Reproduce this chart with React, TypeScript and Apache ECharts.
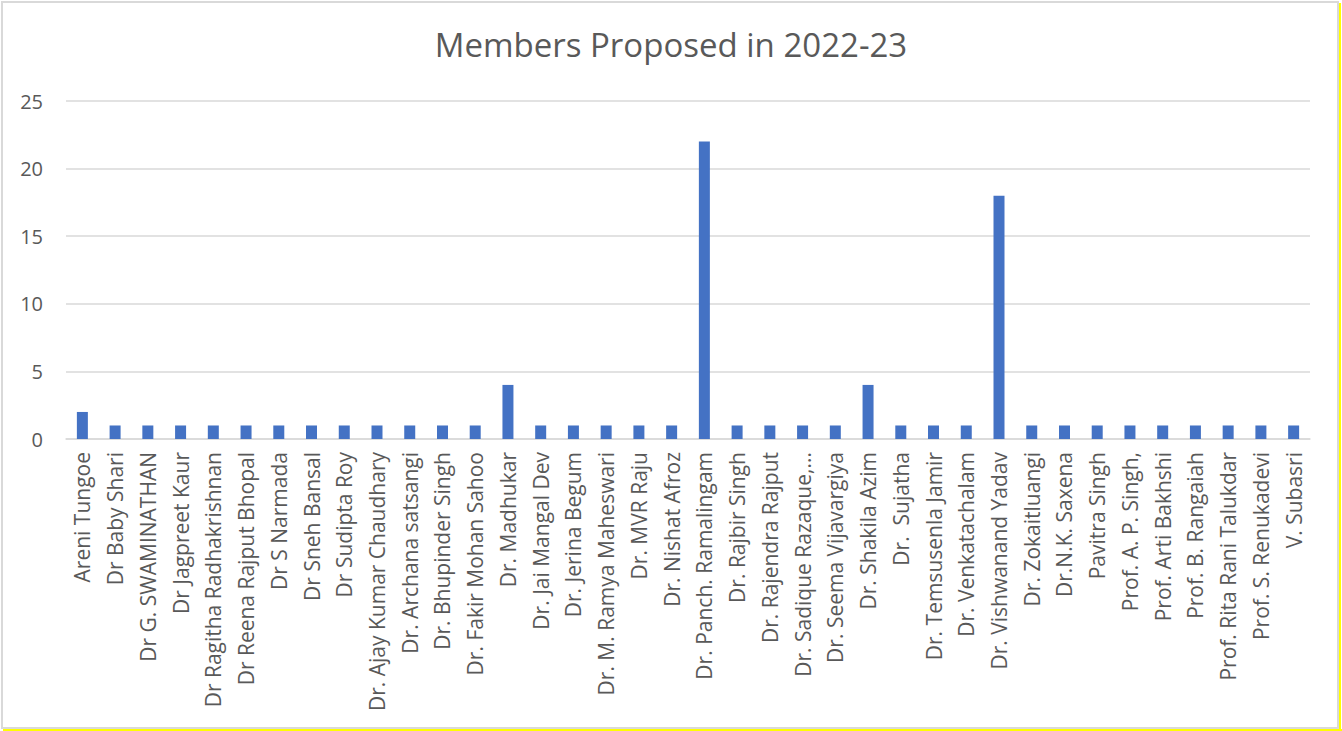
import React, { useEffect, useRef } from "react";
import * as echarts from "echarts";

const categories: string[] = [
  "Areni Tungoe",
  "Dr Baby Shari",
  "Dr G. SWAMINATHAN",
  "Dr Jagpreet Kaur",
  "Dr Ragitha Radhakrishnan",
  "Dr Reena Rajput Bhopal",
  "Dr S Narmada",
  "Dr Sneh Bansal",
  "Dr Sudipta Roy",
  "Dr. Ajay Kumar Chaudhary",
  "Dr. Archana satsangi",
  "Dr. Bhupinder Singh",
  "Dr. Fakir Mohan Sahoo",
  "Dr. Madhukar",
  "Dr. Jai Mangal Dev",
  "Dr. Jerina Begum",
  "Dr. M. Ramya Maheswari",
  "Dr. MVR Raju",
  "Dr. Nishat Afroz",
  "Dr. Panch. Ramalingam",
  "Dr. Rajbir Singh",
  "Dr. Rajendra Rajput",
  "Dr. Sadique Razaque,...",
  "Dr. Seema Vijavargiya",
  "Dr. Shakila Azim",
  "Dr.  Sujatha",
  "Dr. Temsusenla Jamir",
  "Dr. Venkatachalam",
  "Dr. Vishwanand Yadav",
  "Dr. Zokaitluangi",
  "Dr.N.K. Saxena",
  "Pavitra Singh",
  "Prof. A. P. Singh,",
  "Prof. Arti Bakhshi",
  "Prof. B. Rangaiah",
  "Prof. Rita Rani Talukdar",
  "Prof. S. Renukadevi",
  "V. Subasri",
];

const membersProposed: number[] = [
  2, 1, 1, 1, 1, 1, 1, 1, 1, 1, 1, 1, 1, 4, 1, 1, 1, 1, 1, 22, 1, 1, 1, 1, 4,
  1, 1, 1, 18, 1, 1, 1, 1, 1, 1, 1, 1, 1,
];

const titleText = "Members Proposed in 2022-23";

const FONT = "'Open Sans', 'Noto Sans', sans-serif";

export default function App() {
  const ref = useRef<HTMLDivElement>(null);

  useEffect(() => {
    if (!ref.current) return;
    const chart = echarts.init(ref.current, undefined, { renderer: "svg" });
    chart.setOption({
      animation: false,
      backgroundColor: "#ffffff",
      title: {
        text: titleText,
        left: "center",
        top: 23,
        textStyle: {
          fontFamily: FONT,
          fontSize: 33,
          fontWeight: "normal",
          color: "#595959",
        },
      },
      graphic: [
        {
          type: "rect",
          shape: { x: 2, y: 2, width: 1336, height: 726 },
          style: { fill: "none", stroke: "#d9d9d9", lineWidth: 2 },
          silent: true,
        },
        {
          type: "line",
          shape: { x1: 1340, y1: 3, x2: 1340, y2: 731 },
          style: { stroke: "#ffff00", lineWidth: 2 },
          silent: true,
        },
        {
          type: "line",
          shape: { x1: 3, y1: 730, x2: 1342, y2: 730 },
          style: { stroke: "#ffff00", lineWidth: 2 },
          silent: true,
        },
      ],
      grid: {
        left: 66,
        right: 32,
        top: 101,
        bottom: 292,
        containLabel: false,
      },
      xAxis: {
        type: "category",
        data: categories,
        axisLine: { show: true, lineStyle: { color: "#d9d9d9", width: 1.5 } },
        axisTick: { show: false },
        axisLabel: {
          interval: 0,
          rotate: 90,
          margin: 13,
          fontFamily: FONT,
          fontSize: 21,
          color: "#595959",
        },
      },
      yAxis: {
        type: "value",
        min: 0,
        max: 25,
        interval: 5,
        axisLine: { show: false },
        axisTick: { show: false },
        splitLine: { lineStyle: { color: "#d9d9d9", width: 1.5 } },
        axisLabel: {
          margin: 23,
          fontFamily: FONT,
          fontSize: 20,
          color: "#595959",
        },
      },
      series: [
        {
          type: "bar",
          data: membersProposed,
          barWidth: 11,
          itemStyle: { color: "#4472C4" },
        },
      ],
    });
    return () => chart.dispose();
  }, []);

  return (
    <div
      ref={ref}
      style={{
        position: "absolute",
        left: 0,
        top: 0,
        width: 1342,
        height: 731,
      }}
    />
  );
}
